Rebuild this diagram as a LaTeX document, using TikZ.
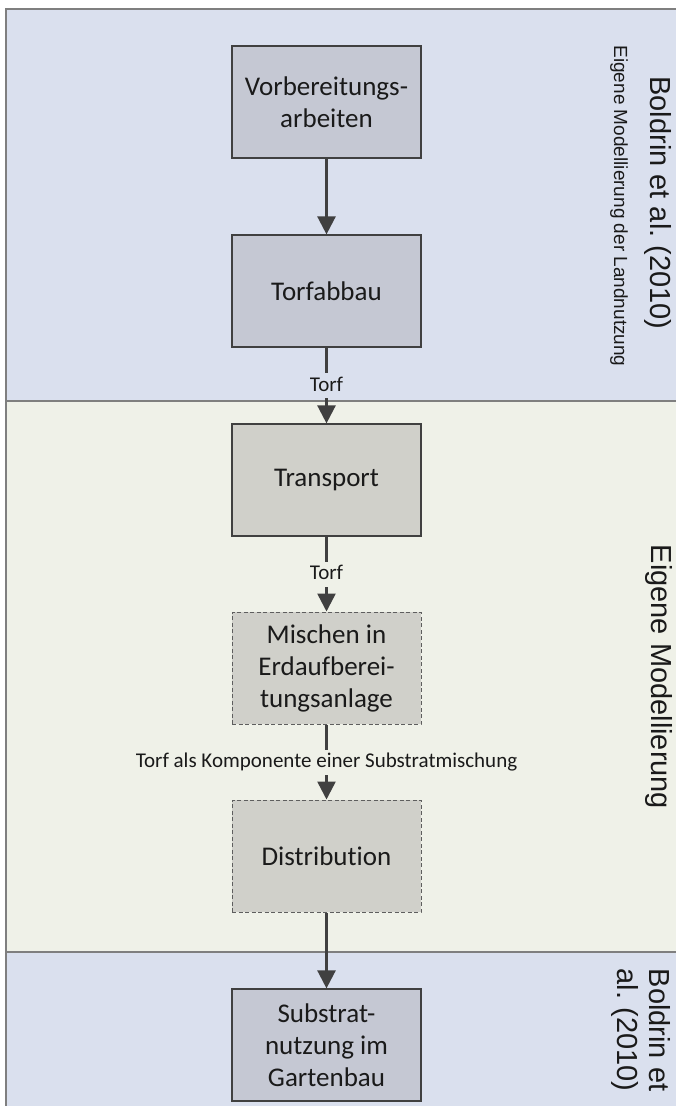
\documentclass[tikz,border=0pt]{standalone}
\usepackage{fontspec}
\setmainfont[Ligatures=NoCommon]{Carlito}
\newfontfamily\arialf{Liberation Sans}
\usetikzlibrary{arrows.meta}
\definecolor{bandA}{HTML}{DAE0EE}
\definecolor{bandB}{HTML}{EFF1E8}
\definecolor{boxfillA}{HTML}{C5C8D3}
\definecolor{boxfillB}{HTML}{D0D0CA}
\definecolor{frameline}{HTML}{7F7F7F}
\definecolor{boxline}{HTML}{404040}
\definecolor{dashline}{HTML}{5E5E5E}
\definecolor{arrowc}{HTML}{404040}
\definecolor{txt}{HTML}{1A1A1A}
\begin{document}
\begin{tikzpicture}[x=1pt,y=-1pt,
  box/.style={draw=boxline, line width=1.2pt, minimum width=189pt, minimum height=112pt,
    align=center, font=\fontsize{27}{32}\selectfont, text=txt, inner sep=0pt},
  boxA/.style={box, fill=boxfillA},
  boxB/.style={box, fill=boxfillB},
  dbox/.style={box, fill=boxfillB, draw=dashline, dash pattern=on 4pt off 2.5pt, line width=1pt},
  flow/.style={draw=arrowc, line width=2.5pt, -{Triangle[length=18pt,width=18pt]}},
  lbl/.style={font=\fontsize{21}{25}\selectfont, text=txt, text height=15pt, text depth=4pt, inner ysep=3pt, inner xsep=2pt},
  frame/.style={draw=frameline, line width=1.5pt},
  side/.style={rotate=-90, text=txt, inner sep=0pt}
]
\useasboundingbox (0,0) rectangle (676,1106);
\clip (0,0) rectangle (676,1106);
\fill[white] (0,0) rectangle (676,1106);
% bands
\fill[bandA] (6,9) rectangle (700,401);
\fill[bandB] (6,401) rectangle (700,952);
\fill[bandA] (6,952) rectangle (700,1120);
\draw[frame] (700,9) -- (6,9) -- (6,1120);
\draw[frame] (6,401) -- (700,401);
\draw[frame] (6,952) -- (700,952);
% boxes
\node[boxA] (b1) at (326.5,102) {Vorbereitungs-\\arbeiten};
\node[boxA] (b2) at (326.5,291) {Torfabbau};
\node[boxB] (b3) at (326.5,480) {Transport};
\node[dbox] (b4) at (326.5,668) {Mischen in\\Erdaufberei-\\tungsanlage};
\node[dbox] (b5) at (326.5,856) {Distribution};
\node[boxA] (b6) at (326.5,1045) {Substrat-\\nutzung im\\Gartenbau};
% connectors
\draw[flow] (b1) -- (b2);
\draw[flow] (b2) -- node[lbl, fill=bandA] (l1) {Torf} (b3);
\draw[flow] (b3) -- node[lbl, fill=bandB] (l2) {Torf} (b4);
\draw[flow] (b4) -- node[lbl, fill=bandB] (l3) {Torf als Komponente einer Substratmischung} (b5);
\draw[flow] (b5) -- (b6);
% side labels
\node[side, font=\arialf\fontsize{29}{33}\selectfont] (s1) at (658,203) {Boldrin et al.\ (2010)};
\node[side, font=\arialf\fontsize{19}{22}\selectfont] (s2) at (619,206) {Eigene Modellierung der Landnutzung};
\node[side, font=\arialf\fontsize{29}{33}\selectfont] (s3) at (659,677) {Eigene Modellierung};
\node[side, align=center, font=\arialf\fontsize{29}{32}\selectfont] (s4) at (641,1030) {Boldrin et\\al.\ (2010)};
\end{tikzpicture}
\end{document}
